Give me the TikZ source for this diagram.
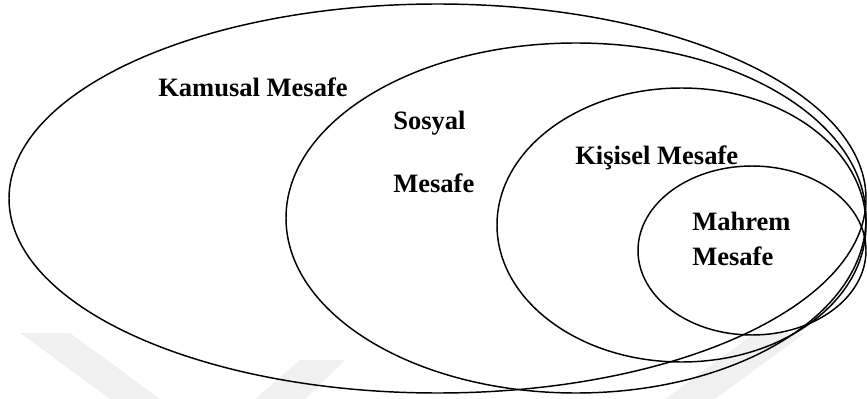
\documentclass[tikz,border=0pt]{standalone}
\usepackage{fontspec}
\setmainfont{Liberation Serif}
\usetikzlibrary{shapes.geometric}
\tikzset{
  zone/.style={ellipse, draw=black, line width=1.1pt, inner sep=0pt},
  lbl/.style={anchor=base west, inner sep=0pt, font=\fontsize{19.9pt}{24pt}\selectfont\bfseries},
  wmark/.style={fill=black!6, draw=none}
}
\begin{document}
\begin{tikzpicture}[x=0.75pt,y=-0.75pt]
\useasboundingbox (0,0) rectangle (867,399);
% faint watermark
\fill[wmark] (20,333) -- (70,333) -- (160,399) -- (110,399) -- cycle;
\fill[wmark] (300,360) -- (345,360) -- (305,399) -- (255,399) -- cycle;
\fill[wmark] (755,333) -- (805,333) -- (715,399) -- (665,399) -- cycle;
% zones
\node[zone, minimum width=642.75pt, minimum height=291.75pt] (kamusal) at (437.5,198.5) {};
\node[zone, minimum width=435pt, minimum height=262.5pt] (sosyal) at (576,218) {};
\node[zone, minimum width=276.75pt, minimum height=205.5pt] (kisisel) at (681.5,225) {};
\node[zone, minimum width=171pt, minimum height=126.75pt] (mahrem) at (752,250.5) {};
% labels
\node[lbl] (tkamusal) at (158,97) {Kamusal Mesafe};
\node[lbl] (tsosyal1) at (393,130) {Sosyal};
\node[lbl] (tsosyal2) at (393,193) {Mesafe};
\node[lbl] (tkisisel) at (575,165) {Kişisel Mesafe};
\node[lbl] (tmahrem1) at (692,230) {Mahrem};
\node[lbl] (tmahrem2) at (692,265) {Mesafe};
\end{tikzpicture}
\end{document}
